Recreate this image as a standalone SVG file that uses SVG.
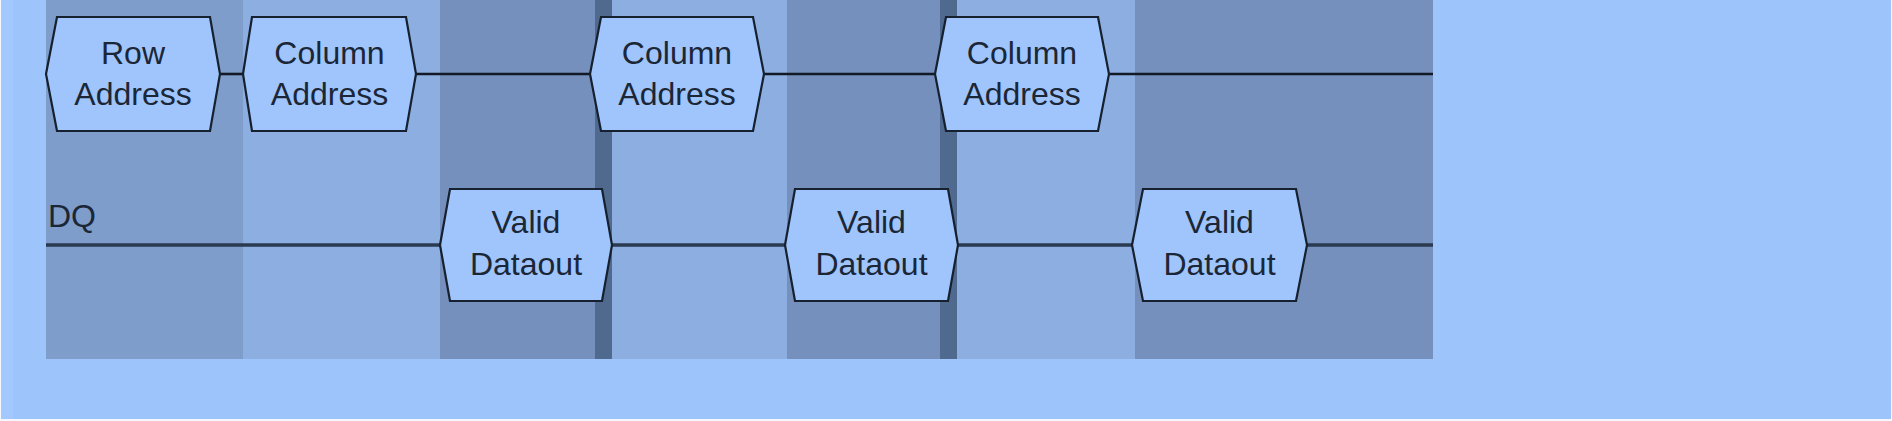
<svg xmlns="http://www.w3.org/2000/svg" width="1892" height="421" viewBox="0 0 1892 421">
<style>
.hex{fill:#9fc5fc;stroke:#16202e;stroke-width:2.2;stroke-linejoin:miter}
.t{font-family:"Liberation Sans",Arial,sans-serif;font-size:32px;fill:#1b2636;text-anchor:middle}
.lbl{font-family:"Liberation Sans",Arial,sans-serif;font-size:32px;fill:#1b2636}
.aline{stroke:#121a26;stroke-width:2.6;fill:none}
.dline{stroke:#2a3a50;stroke-width:3.4;fill:none}
</style>
<rect x="0" y="0" width="1892" height="421" fill="#f4f7fc"/>
<rect x="1" y="0" width="1890" height="419" fill="#9ec4fc"/>
<rect x="1" y="0" width="12" height="419" fill="#a3c8fd"/>
<g id="background">
<rect x="46" y="0" width="197" height="359" fill="#7f9dca"/>
<rect x="243" y="0" width="197" height="359" fill="#8caee1"/>
<rect x="440" y="0" width="155" height="359" fill="#7590bc"/>
<rect x="595" y="0" width="17" height="359" fill="#506a8f"/>
<rect x="612" y="0" width="175" height="359" fill="#8caee1"/>
<rect x="787" y="0" width="153" height="359" fill="#7590bc"/>
<rect x="940" y="0" width="17" height="359" fill="#506a8f"/>
<rect x="957" y="0" width="178" height="359" fill="#8caee1"/>
<rect x="1135" y="0" width="298" height="359" fill="#7590bc"/>
</g>
<g id="connectors">
<line class="aline" x1="220" y1="74" x2="243" y2="74"/>
<line class="aline" x1="416" y1="74" x2="590" y2="74"/>
<line class="aline" x1="764" y1="74" x2="935" y2="74"/>
<line class="aline" x1="1109" y1="74" x2="1433" y2="74"/>
<line class="dline" x1="46" y1="245" x2="440" y2="245"/>
<line class="dline" x1="612" y1="245" x2="785" y2="245"/>
<line class="dline" x1="958" y1="245" x2="1132" y2="245"/>
<line class="dline" x1="1307" y1="245" x2="1433" y2="245"/>
</g>
<g id="dq-label"><text class="lbl" x="48" y="227">DQ</text></g>
<g id="row-address">
<polygon class="hex" points="46,74 57,17 210,17 220,74 210,131 57,131"/>
<text class="t" x="133" y="64">Row</text><text class="t" x="133" y="105">Address</text>
</g>
<g id="col-address-1">
<polygon class="hex" points="243,74 252,17 406,17 416,74 406,131 252,131"/>
<text class="t" x="329.5" y="64">Column</text><text class="t" x="329.5" y="105">Address</text>
</g>
<g id="col-address-2">
<polygon class="hex" points="590,74 601,17 753,17 764,74 753,131 601,131"/>
<text class="t" x="677" y="64">Column</text><text class="t" x="677" y="105">Address</text>
</g>
<g id="col-address-3">
<polygon class="hex" points="935,74 946,17 1098,17 1109,74 1098,131 946,131"/>
<text class="t" x="1022" y="64">Column</text><text class="t" x="1022" y="105">Address</text>
</g>
<g id="valid-1">
<polygon class="hex" points="440,245 450,189 602,189 612,245 602,301 450,301"/>
<text class="t" x="526" y="233">Valid</text><text class="t" x="526" y="275">Dataout</text>
</g>
<g id="valid-2">
<polygon class="hex" points="785,245 795,189 948,189 958,245 948,301 795,301"/>
<text class="t" x="871.5" y="233">Valid</text><text class="t" x="871.5" y="275">Dataout</text>
</g>
<g id="valid-3">
<polygon class="hex" points="1132,245 1143,189 1296,189 1307,245 1296,301 1143,301"/>
<text class="t" x="1219.5" y="233">Valid</text><text class="t" x="1219.5" y="275">Dataout</text>
</g>
</svg>
